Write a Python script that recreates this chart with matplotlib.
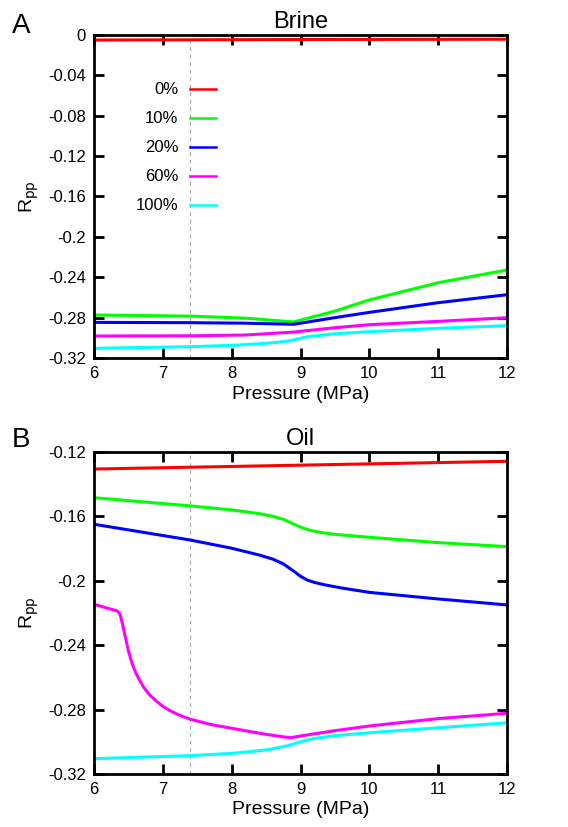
import matplotlib
matplotlib.use("Agg")
import matplotlib.pyplot as plt
from matplotlib.lines import Line2D

plt.rcParams['font.family'] = ['Liberation Sans', 'DejaVu Sans']

labels = ['0%', '10%', '20%', '60%', '100%']
colors = ['#ff0000', '#00ff00', '#0000ff', '#ff00ff', '#00ffff']
xticks = [6, 7, 8, 9, 10, 11, 12]
yticks_a = [0, -0.04, -0.08, -0.12, -0.16, -0.2, -0.24, -0.28, -0.32]
yticklabels_a = ['0', '-0.04', '-0.08', '-0.12', '-0.16', '-0.2', '-0.24', '-0.28', '-0.32']
yticks_b = [-0.12, -0.16, -0.2, -0.24, -0.28, -0.32]
yticklabels_b = ['-0.12', '-0.16', '-0.2', '-0.24', '-0.28', '-0.32']
p_crit = 7.4

# Brine
brine_x = {
    '0%':   [6, 9, 12],
    '10%':  [6, 7.4, 8.2, 8.9, 9.5, 10, 11, 12],
    '20%':  [6, 7.4, 8.2, 8.9, 9.5, 10, 11, 12],
    '60%':  [6, 7.4, 8.2, 8.9, 9.5, 10, 11, 12],
    '100%': [6, 7.4, 8, 8.5, 8.8, 9.1, 9.5, 10, 11, 12],
}
brine_y = {
    '0%':   [-0.005, -0.0045, -0.0042],
    '10%':  [-0.2774, -0.2785, -0.2805, -0.2843, -0.2735, -0.2625, -0.2454, -0.2328],
    '20%':  [-0.2847, -0.2850, -0.2855, -0.2866, -0.2800, -0.2748, -0.2652, -0.2573],
    '60%':  [-0.2982, -0.2980, -0.2972, -0.2943, -0.2900, -0.2870, -0.2837, -0.2801],
    '100%': [-0.3104, -0.3088, -0.3075, -0.3055, -0.3035, -0.2989, -0.2960, -0.2939, -0.2906, -0.2880],
}

# Oil
oil_x = {
    '0%':   [6, 9, 12],
    '10%':  [6, 7.4, 8, 8.4, 8.6, 8.75, 8.9, 9.02, 9.15, 9.3, 9.5, 10, 11, 12],
    '20%':  [6, 7.4, 8, 8.4, 8.6, 8.75, 8.9, 9.0, 9.1, 9.2, 9.35, 9.6, 10, 11, 12],
    '60%':  [6, 6.34, 6.38, 6.42, 6.45, 6.5, 6.55, 6.6, 6.65, 6.72, 6.8, 6.9, 7.0, 7.1, 7.2,
             7.3, 7.4, 7.7, 8.0, 8.5, 8.85, 9.0, 9.5, 10, 11, 12],
    '100%': [6, 7.4, 8, 8.5, 8.8, 9.0, 9.2, 9.5, 10, 11, 12],
}
oil_y = {
    '0%':   [-0.1306, -0.1282, -0.1258],
    '10%':  [-0.1484, -0.1535, -0.1560, -0.1583, -0.1600, -0.1618, -0.1648, -0.1670, -0.1688,
             -0.1700, -0.1712, -0.1730, -0.1763, -0.1788],
    '20%':  [-0.1649, -0.1747, -0.1798, -0.1840, -0.1866, -0.1895, -0.1940, -0.1972, -0.1996,
             -0.2010, -0.2025, -0.2045, -0.2072, -0.2113, -0.2150],
    '60%':  [-0.2146, -0.2188, -0.2210, -0.2280, -0.2340, -0.2435, -0.2510, -0.2565, -0.2608,
             -0.2660, -0.2705, -0.2745, -0.2780, -0.2806, -0.2827, -0.2845, -0.2860, -0.2893,
             -0.2916, -0.2954, -0.2975, -0.2964, -0.2931, -0.2902, -0.2856, -0.2823],
    '100%': [-0.3105, -0.3086, -0.3072, -0.3051, -0.3026, -0.3000, -0.2979, -0.2962, -0.2944,
             -0.2913, -0.2882],
}


def style_axes(ax, yticks, yticklabels, ylim):
    ax.set_xlim(6, 12)
    ax.set_ylim(*ylim)
    ax.set_xticks(xticks)
    ax.set_yticks(yticks)
    ax.set_yticklabels(yticklabels)
    ax.tick_params(direction='in', length=7, width=2, labelsize=12, pad=6,
                   top=True, right=True)
    for s in ax.spines.values():
        s.set_linewidth(2)
    ax.axvline(p_crit, color='#aaaaaa', lw=0.9, ls=(0, (3, 3)), zorder=0)
    ax.set_xlabel('Pressure (MPa)', fontsize=14, labelpad=3)
    ax.set_ylabel(r'R$_{\rm pp}$', fontsize=14)
    ax.yaxis.set_label_coords(-0.128, 0.5)


fig = plt.figure(figsize=(5.68, 8.27), dpi=100)
ax1 = fig.add_axes([0.1655, 0.5671, 0.7271, 0.3906])
ax2 = fig.add_axes([0.1655, 0.0641, 0.7271, 0.3894])

for lab, c in zip(labels, colors):
    ax1.plot(brine_x[lab], brine_y[lab], color=c, lw=2.2, label=lab)
    ax2.plot(oil_x[lab], oil_y[lab], color=c, lw=2.2, label=lab)

style_axes(ax1, yticks_a, yticklabels_a, (-0.32, 0))
style_axes(ax2, yticks_b, yticklabels_b, (-0.32, -0.12))
ax1.set_title('Brine', fontsize=17, pad=5)
ax2.set_title('Oil', fontsize=17, pad=5)

handles = [Line2D([], [], color=c, lw=1.8) for c in colors]
ax1.legend(handles, labels, markerfirst=False, frameon=False, fontsize=12,
           loc='upper right', bbox_to_anchor=(0.295, 0.853), borderpad=0,
           borderaxespad=0, handlelength=1.56, handletextpad=0.7, labelspacing=0.84)

fig.text(0.021, 0.984, 'A', fontsize=20, va='top')
fig.text(0.021, 0.484, 'B', fontsize=20, va='top')

fig.savefig('out.png', dpi=100)
